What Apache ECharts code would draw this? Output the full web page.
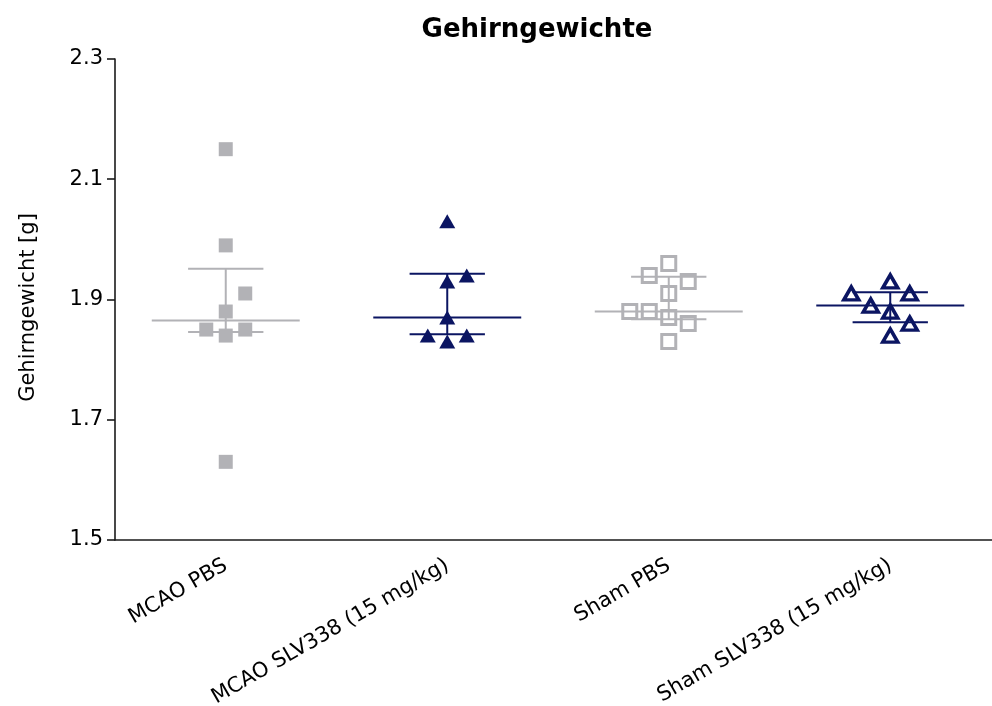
<!DOCTYPE html>
<html>
<head>
<meta charset="utf-8">
<script src="https://cdn.jsdelivr.net/npm/echarts@6/dist/echarts.min.js"></script>
<style>
  html, body { margin: 0; padding: 0; background: #ffffff; }
  #chart { width: 992px; height: 706px; }
</style>
</head>
<body>
<div id="chart"></div>
<script>
// Brain weights per group (g)
const categories = ['MCAO PBS', 'MCAO SLV338 (15 mg/kg)', 'Sham PBS', 'Sham SLV338 (15 mg/kg)'];
const mcaoPbs = [1.63, 1.84, 1.85, 1.85, 1.88, 1.91, 1.99, 2.15];
const mcaoSlv = [1.83, 1.84, 1.84, 1.87, 1.93, 1.94, 2.03];
const shamPbs = [1.83, 1.86, 1.87, 1.88, 1.88, 1.91, 1.93, 1.94, 1.96];
const shamSlv = [1.84, 1.86, 1.88, 1.89, 1.91, 1.91, 1.93];

// Median with interquartile range per group
const medians = [1.865, 1.87, 1.88, 1.89];
const q1 = [1.846, 1.842, 1.867, 1.862];
const q3 = [1.951, 1.943, 1.938, 1.912];

const yTicks = [1.5, 1.7, 1.9, 2.1, 2.3];

const GREY = '#b2b2b6';
const NAVY = '#0b1562';
const FONT = 'DejaVu Sans, sans-serif';

// Spread overlapping points sideways (greedy column assignment)
function spread(values, groupIndex) {
  const slots = [0, 1, -1, -2, 2];
  const step = 0.088;
  const near = 0.035;
  const placed = [];
  return values.slice().sort((a, b) => a - b).map(v => {
    let slot = slots.find(s => !placed.some(p => p.s === s && Math.abs(p.v - v) < near));
    if (slot === undefined) slot = 0;
    placed.push({ v, s: slot });
    return [groupIndex + slot * step, v];
  });
}

const colors = [GREY, NAVY, GREY, NAVY];
const summary = categories.map((c, i) => [i, medians[i], q1[i], q3[i]]);

const chart = echarts.init(document.getElementById('chart'), null, { renderer: 'canvas' });

const option = {
  backgroundColor: '#ffffff',
  animation: false,
  title: {
    text: 'Gehirngewichte',
    left: 532,
    top: 12,
    textAlign: 'center',
    textStyle: { fontFamily: FONT, fontSize: 26, fontWeight: 'bold', color: '#000' }
  },
  grid: { left: 115, top: 59, bottom: 166, width: 886, containLabel: false, outerBoundsMode: 'none' },
  xAxis: [
    {
      type: 'category',
      data: categories,
      boundaryGap: true,
      axisLine: { onZero: false, lineStyle: { color: '#1a1a1a', width: 1.6 } },
      axisTick: { alignWithLabel: true, length: 8, lineStyle: { color: '#1a1a1a', width: 1.6 } },
      axisLabel: { rotate: 30, margin: 24, fontFamily: FONT, fontSize: 21, color: '#000', interval: 0 },
      splitLine: { show: false }
    },
    {
      type: 'value',
      min: -0.5,
      max: 3.5,
      show: false
    }
  ],
  yAxis: {
    type: 'value',
    min: 1.5,
    max: 2.3,
    interval: 0.2,
    name: 'Gehirngewicht [g]',
    nameLocation: 'middle',
    nameRotate: 90,
    nameGap: 76,
    nameTextStyle: { fontFamily: FONT, fontSize: 21, color: '#000', padding: [0, 16, 0, 0] },
    axisLine: { show: true, onZero: false, lineStyle: { color: '#1a1a1a', width: 1.6 } },
    axisTick: { show: true, length: 8, lineStyle: { color: '#1a1a1a', width: 1.6 } },
    axisLabel: {
      margin: 12, fontFamily: FONT, fontSize: 21, color: '#000',
      formatter: v => yTicks.includes(Math.round(v * 10) / 10) ? v.toFixed(1) : ''
    },
    splitLine: { show: false }
  },
  series: [
    {
      type: 'custom',
      xAxisIndex: 1,
      z: 1,
      data: summary,
      renderItem: (params, api) => {
        const i = api.value(0);
        const color = colors[i];
        const med = api.coord([i, api.value(1)]);
        const lo = api.coord([i, api.value(2)]);
        const hi = api.coord([i, api.value(3)]);
        const mL = api.coord([i - 0.334, api.value(1)]);
        const mR = api.coord([i + 0.334, api.value(1)]);
        const cL = api.coord([i - 0.17, 0])[0];
        const cR = api.coord([i + 0.17, 0])[0];
        const style = { stroke: color, lineWidth: 2, fill: null };
        return {
          type: 'group',
          children: [
            { type: 'line', shape: { x1: mL[0], y1: med[1], x2: mR[0], y2: med[1] }, style },
            { type: 'line', shape: { x1: lo[0], y1: lo[1], x2: hi[0], y2: hi[1] }, style },
            { type: 'line', shape: { x1: cL, y1: lo[1], x2: cR, y2: lo[1] }, style },
            { type: 'line', shape: { x1: cL, y1: hi[1], x2: cR, y2: hi[1] }, style }
          ]
        };
      }
    },
    {
      name: categories[0],
      type: 'scatter',
      xAxisIndex: 1,
      z: 3,
      symbol: 'rect',
      symbolSize: 14,
      itemStyle: { color: GREY, opacity: 1 },
      data: spread(mcaoPbs, 0)
    },
    {
      name: categories[1],
      type: 'scatter',
      xAxisIndex: 1,
      z: 3,
      symbol: 'triangle',
      symbolSize: [16, 14],
      itemStyle: { color: NAVY, opacity: 1 },
      data: spread(mcaoSlv, 1)
    },
    {
      name: categories[2],
      type: 'scatter',
      xAxisIndex: 1,
      z: 3,
      symbol: 'rect',
      symbolSize: 14,
      itemStyle: { color: 'transparent', borderColor: GREY, borderWidth: 3, opacity: 1 },
      data: spread(shamPbs, 2)
    },
    {
      name: categories[3],
      type: 'scatter',
      xAxisIndex: 1,
      z: 3,
      symbol: 'triangle',
      symbolSize: [15, 13],
      itemStyle: { color: 'transparent', borderColor: NAVY, borderWidth: 3.5, opacity: 1 },
      data: spread(shamSlv, 3)
    }
  ]
};

chart.setOption(option);
</script>
</body>
</html>
